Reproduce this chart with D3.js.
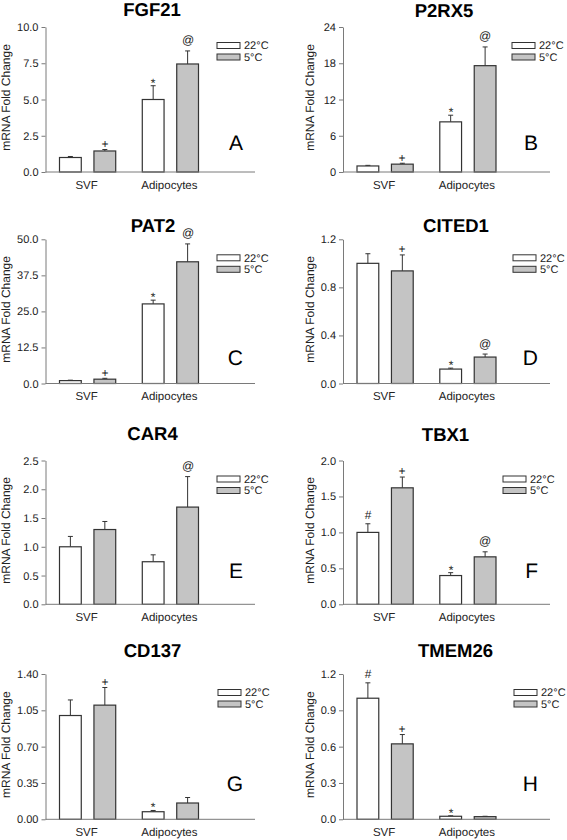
<!DOCTYPE html>
<html>
<head>
<meta charset="utf-8">
<script src="https://cdn.jsdelivr.net/npm/d3@7"></script>
<style>
  body { margin: 0; background: #fff; }
  svg { display: block; font-family: "Liberation Sans", Arial, sans-serif; }
  text { text-rendering: geometricPrecision; }
</style>
</head>
<body>
<svg id="chart" width="567" height="840"></svg>
<script>
// ---------------- DATA ----------------
const genes = ["FGF21", "P2RX5", "PAT2", "CITED1", "CAR4", "TBX1", "CD137", "TMEM26"];
const panelLetters = ["A", "B", "C", "D", "E", "F", "G", "H"];
const groups = ["SVF", "Adipocytes"];
const series = ["22°C", "5°C"];
const yTickLabels = [
  ["0.0", "2.5", "5.0", "7.5", "10.0"],
  ["0", "6", "12", "18", "24"],
  ["0.0", "12.5", "25.0", "37.5", "50.0"],
  ["0.0", "0.4", "0.8", "1.2"],
  ["0.0", "0.5", "1.0", "1.5", "2.0", "2.5"],
  ["0.0", "0.5", "1.0", "1.5", "2.0"],
  ["0.00", "0.35", "0.70", "1.05", "1.40"],
  ["0.0", "0.3", "0.6", "0.9", "1.2"]
];
// [SVF, Adipocytes] for each gene
const mean22 = [[1.0, 5.0], [1.0, 8.3], [1.0, 27.6], [1.0, 0.12], [1.0, 0.74], [1.0, 0.40], [1.0, 0.073], [1.0, 0.025]];
const err22  = [[0.07, 0.95], [0.1, 1.1], [0.15, 1.3], [0.08, 0.008], [0.18, 0.12], [0.12, 0.04], [0.15, 0.012], [0.127, 0.004]];
const mean5  = [[1.45, 7.45], [1.3, 17.6], [1.5, 42.2], [0.937, 0.22], [1.3, 1.69], [1.62, 0.66], [1.10, 0.157], [0.623, 0.022]];
const err5   = [[0.1, 0.9], [0.15, 3.1], [0.3, 6.2], [0.133, 0.025], [0.14, 0.53], [0.15, 0.07], [0.17, 0.053], [0.077, 0.003]];
const marks22 = [["", "*"], ["", "*"], ["", "*"], ["", "*"], ["", ""], ["#", "*"], ["", "*"], ["#", "*"]];
const marks5  = [["+", "@"], ["+", "@"], ["+", "@"], ["+", "@"], ["", "@"], ["+", "@"], ["+", ""], ["+", ""]];

// ---------------- LAYOUT / STYLE ----------------
const colX0 = [45.5, 343], colX1 = [255, 550];
const rowTop = [27, 239.3, 460.5, 674], rowBottom = [172, 383.5, 604.3, 819.3];
const titleX = [152, 444, 153, 456, 152.5, 445.5, 152.5, 455.5];
const titleY = [16, 17, 231.7, 232.3, 440, 440.5, 657.3, 656.7];
const letterY = [150, 365, 578, 791];
const legendX = [217, 512, 217, 513, 217, 503, 218, 514];
const ylabelX = [10, 314];
const fills = ["#ffffff", "#c4c4c4"];
const symBaseline = { "+": -1.6, "*": 1, "@": -6.5, "#": -5 };

const svg = d3.select("#chart");

genes.forEach((gene, p) => {
  const col = p % 2, row = Math.floor(p / 2);
  const x0 = colX0[col], x1 = colX1[col];
  const top = rowTop[row], bottom = rowBottom[row];
  const ticks = yTickLabels[p].map(parseFloat);
  const g = svg.append("g");

  const y = d3.scaleLinear().domain([0, d3.max(ticks)]).range([bottom, top]);
  const outer = d3.scaleBand().domain(groups).range([x0 + 14, x0 + 153]).paddingInner(0.321);
  const inner = d3.scaleBand().domain(series).range([0, outer.bandwidth()]).paddingInner(0.368);

  // title
  g.append("text").attr("x", titleX[p]).attr("y", titleY[p])
    .attr("text-anchor", "middle").attr("font-size", 18.5).attr("font-weight", "bold")
    .attr("fill", "#000").text(gene);

  // y axis
  const yAxis = d3.axisLeft(y).tickValues(ticks)
    .tickFormat((d, i) => yTickLabels[p][i]).tickSize(4).tickSizeOuter(0).tickPadding(3);
  const ga = g.append("g").attr("transform", `translate(${x0},0)`).call(yAxis);
  ga.select(".domain").attr("stroke", "#7a7a7a");
  ga.selectAll(".tick line").attr("stroke", "#7a7a7a");
  ga.selectAll(".tick text").attr("font-size", 11).attr("fill", "#222")
    .attr("font-family", "Liberation Sans, Arial, sans-serif");

  // y label
  g.append("text")
    .attr("transform", `translate(${ylabelX[col]},${(top + bottom) / 2 - 2}) rotate(-90)`)
    .attr("text-anchor", "middle").attr("font-size", 12).attr("fill", "#222")
    .text("mRNA Fold Change");

  // bars
  const rows = [];
  groups.forEach((grp, gi) => {
    rows.push({ grp, s: series[0], si: 0, v: mean22[p][gi], e: err22[p][gi], m: marks22[p][gi] });
    rows.push({ grp, s: series[1], si: 1, v: mean5[p][gi], e: err5[p][gi], m: marks5[p][gi] });
  });
  const bx = d => outer(d.grp) + inner(d.s);
  const bw = inner.bandwidth();

  // error bars
  g.selectAll(".err").data(rows).enter().append("line")
    .attr("x1", d => bx(d) + bw / 2).attr("x2", d => bx(d) + bw / 2)
    .attr("y1", d => y(d.v)).attr("y2", d => y(d.v + d.e))
    .attr("stroke", "#333").attr("stroke-width", 1);
  g.selectAll(".cap").data(rows).enter().append("line")
    .attr("x1", d => bx(d) + bw / 2 - 2.5).attr("x2", d => bx(d) + bw / 2 + 2.5)
    .attr("y1", d => y(d.v + d.e)).attr("y2", d => y(d.v + d.e))
    .attr("stroke", "#333").attr("stroke-width", 1);

  g.selectAll(".bar").data(rows).enter().append("rect")
    .attr("x", bx).attr("width", bw)
    .attr("y", d => y(d.v)).attr("height", d => y(0) - y(d.v))
    .attr("fill", d => fills[d.si]).attr("stroke", "#333").attr("stroke-width", 1.2);

  // significance marks
  g.selectAll(".sym").data(rows.filter(d => d.m)).enter().append("text")
    .attr("x", d => Math.round(bx(d) + bw / 2))
    .attr("y", d => Math.round(y(d.v + d.e) + symBaseline[d.m]))
    .attr("text-anchor", "middle").attr("font-size", 12).attr("fill", "#222")
    .text(d => d.m);

  // x axis baseline
  g.append("line").attr("x1", x0).attr("x2", x1).attr("y1", bottom).attr("y2", bottom)
    .attr("stroke", "#7a7a7a").attr("stroke-width", 1);
  g.selectAll(".cat").data(groups).enter().append("text")
    .attr("x", d => outer(d) + outer.bandwidth() / 2 - 1)
    .attr("y", bottom + 16.5)
    .attr("text-anchor", "middle").attr("font-size", 11.5).attr("fill", "#222")
    .text(d => d);

  // legend
  series.forEach((s, si) => {
    const ly = top + 15.5 + si * 11.5;
    g.append("rect").attr("x", legendX[p]).attr("y", ly).attr("width", 23).attr("height", 6)
      .attr("fill", fills[si]).attr("stroke", "#333").attr("stroke-width", 1);
    g.append("text").attr("x", legendX[p] + 27).attr("y", ly + 3).attr("dy", "0.35em")
      .attr("font-size", 11).attr("fill", "#222").text(s);
  });

  // panel letter
  g.append("text").attr("x", x1 - 12).attr("y", letterY[row])
    .attr("text-anchor", "end").attr("font-size", 21).attr("fill", "#000")
    .text(panelLetters[p]);
});
</script>
</body>
</html>
